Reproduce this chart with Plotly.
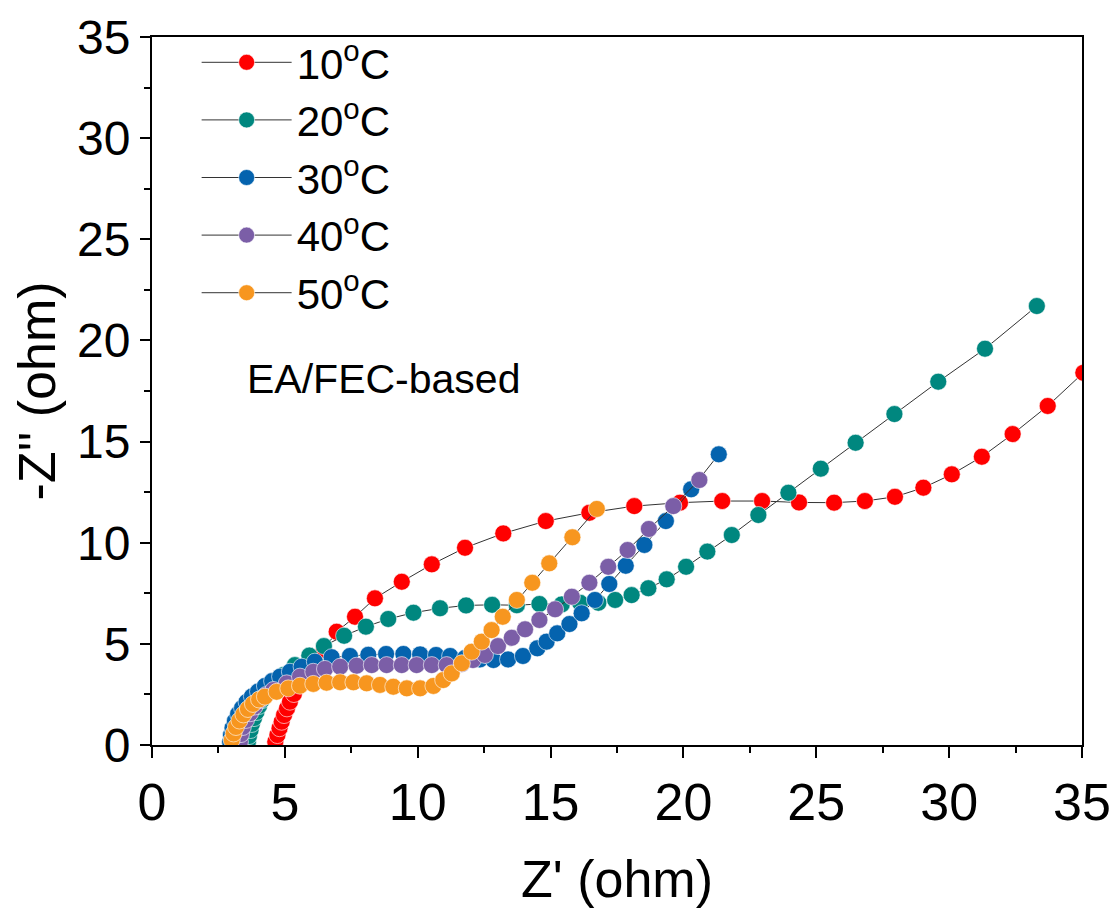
import plotly.graph_objects as go

# ---- data (Z' , -Z'') in ohm ----
labels = ["10<sup>o</sup>C", "20<sup>o</sup>C", "30<sup>o</sup>C", "40<sup>o</sup>C", "50<sup>o</sup>C"]
colors = ["#FF0000", "#00877F", "#0463AE", "#7B5EA7", "#F7961F"]

x10 = [4.64, 4.72, 4.80, 4.88, 4.97, 5.08, 5.19, 5.34, 5.57, 5.83, 6.13, 6.47, 6.95, 7.64, 8.39, 9.40,
       10.53, 11.78, 13.22, 14.82, 16.46, 18.15, 19.87, 21.46, 22.96, 24.35, 25.67, 26.83, 27.96,
       29.03, 30.10, 31.23, 32.39, 33.71, 35.05]
y10 = [0.16, 0.49, 0.83, 1.15, 1.48, 1.81, 2.14, 2.52, 3.02, 3.56, 4.10, 4.70, 5.60, 6.34, 7.25, 8.07,
       8.93, 9.75, 10.46, 11.07, 11.48, 11.81, 11.98, 12.06, 12.06, 11.99, 11.98, 12.06, 12.27,
       12.72, 13.38, 14.25, 15.37, 16.76, 18.40]

x20 = [3.61, 3.65, 3.71, 3.76, 3.84, 3.93, 4.03, 4.14, 4.29, 4.44, 4.63, 4.94, 5.38, 5.92, 6.47, 7.23,
       8.05, 8.89, 9.84, 10.84, 11.82, 12.80, 13.73, 14.58, 15.42, 16.11, 16.80, 17.43, 18.05, 18.68,
       19.37, 20.10, 20.90, 21.82, 22.82, 23.95, 25.17, 26.48, 27.94, 29.59, 31.35, 33.30]
y20 = [0.15, 0.44, 0.74, 1.04, 1.33, 1.63, 1.93, 2.22, 2.52, 2.82, 3.11, 3.46, 3.95, 4.42, 4.89, 5.40,
       5.85, 6.23, 6.54, 6.76, 6.90, 6.93, 6.91, 6.97, 6.95, 7.03, 7.03, 7.17, 7.41, 7.75,
       8.19, 8.81, 9.56, 10.38, 11.37, 12.47, 13.66, 14.94, 16.36, 17.96, 19.59, 21.70]

x30 = [2.94, 2.97, 3.03, 3.12, 3.24, 3.39, 3.56, 3.76, 3.99, 4.25, 4.52, 4.82, 5.19, 5.63, 6.13, 6.76,
       7.45, 8.14, 8.81, 9.46, 10.09, 10.69, 11.22, 11.78, 12.34, 12.85, 13.40, 13.96, 14.50, 14.85,
       15.25, 15.71, 16.17, 16.67, 17.21, 17.83, 18.53, 19.34, 20.29, 21.33]
y30 = [0.15, 0.49, 0.84, 1.19, 1.53, 1.83, 2.13, 2.40, 2.64, 2.92, 3.16, 3.38, 3.62, 3.87, 4.12, 4.34,
       4.40, 4.46, 4.50, 4.50, 4.48, 4.45, 4.40, 4.30, 4.23, 4.20, 4.23, 4.40, 4.78, 5.11,
       5.52, 5.98, 6.51, 7.17, 7.96, 8.86, 9.89, 11.07, 12.64, 14.37]

x40 = [3.31, 3.35, 3.42, 3.54, 3.69, 3.86, 4.06, 4.29, 4.57, 5.07, 5.57, 6.07, 6.51, 7.08, 7.70, 8.27,
       8.83, 9.40, 9.96, 10.53, 11.09, 11.66, 12.08, 12.53, 13.02, 13.54, 14.04, 14.58, 15.17, 15.80,
       16.46, 17.17, 17.90, 18.70, 19.62, 20.60]
y40 = [0.16, 0.54, 0.89, 1.24, 1.57, 1.90, 2.22, 2.47, 2.72, 3.05, 3.38, 3.62, 3.76, 3.87, 3.92, 3.95,
       3.95, 3.95, 3.95, 3.95, 3.95, 4.00, 4.20, 4.45, 4.89, 5.30, 5.72, 6.18, 6.71, 7.33,
       8.02, 8.81, 9.64, 10.68, 11.81, 13.10]

x50 = [3.00, 3.07, 3.16, 3.29, 3.44, 3.61, 3.80, 4.03, 4.25, 4.69, 5.13, 5.57, 6.07, 6.57, 7.08, 7.58,
       8.08, 8.58, 9.08, 9.59, 10.09, 10.59, 10.96, 11.28, 11.66, 12.03, 12.41, 12.78, 13.20, 13.73,
       14.31, 14.95, 15.82, 16.74]
y50 = [0.25, 0.57, 0.89, 1.21, 1.51, 1.78, 2.03, 2.25, 2.39, 2.63, 2.80, 2.93, 3.02, 3.08, 3.10, 3.10,
       3.05, 2.97, 2.88, 2.80, 2.80, 2.92, 3.21, 3.54, 4.04, 4.61, 5.11, 5.68, 6.34, 7.17,
       8.02, 8.98, 10.27, 11.67]

xs = [x10, x20, x30, x40, x50]
ys = [y10, y20, y30, y40, y50]

x_ticks = [0, 5, 10, 15, 20, 25, 30, 35]
y_ticks = [0, 5, 10, 15, 20, 25, 30, 35]

FONT = "Liberation Sans, Arial, sans-serif"

fig = go.Figure()
for lab, col, xv, yv in zip(labels, colors, xs, ys):
    fig.add_trace(go.Scatter(
        x=xv, y=yv, name=lab, mode="lines+markers",
        line=dict(color="#333333", width=1),
        marker=dict(color=col, size=17, line=dict(color="white", width=0.6)),
    ))

axis_common = dict(
    showline=True, linecolor="black", linewidth=2, mirror=True,
    showgrid=False, zeroline=False, automargin=False,
    ticks="outside", tickcolor="black", tickwidth=2,
    range=[0, 35],
    minor=dict(ticks="outside", dtick=2.5, tick0=0, ticklen=6, tickwidth=2, tickcolor="black"),
)

fig.update_xaxes(**axis_common, ticklen=11, tickvals=x_ticks,
                 tickfont=dict(family=FONT, size=52, color="black"),
                 title=dict(text="Z' (ohm)", font=dict(family=FONT, size=52, color="black"), standoff=55))
fig.update_yaxes(**axis_common, ticklen=10, tickvals=y_ticks,
                 tickfont=dict(family=FONT, size=48, color="black"),
                 title=dict(text="-Z'' (ohm)", font=dict(family=FONT, size=52, color="black"), standoff=8))

fig.add_annotation(x=8.73, y=18.1, xref="x", yref="y", text="EA/FEC-based", showarrow=False,
                   font=dict(family=FONT, size=41, color="black"))

fig.update_layout(
    width=1109, height=900,
    margin=dict(l=144, r=35, t=29, b=163),
    paper_bgcolor="white", plot_bgcolor="white",
    font=dict(family=FONT, color="black"),
    legend=dict(x=0.048, y=1.012, xanchor="left", yanchor="top",
                bgcolor="rgba(0,0,0,0)", borderwidth=0,
                font=dict(family=FONT, size=42, color="black"),
                itemwidth=90, tracegroupgap=0),
    showlegend=True,
)

fig.write_html("out.html")
